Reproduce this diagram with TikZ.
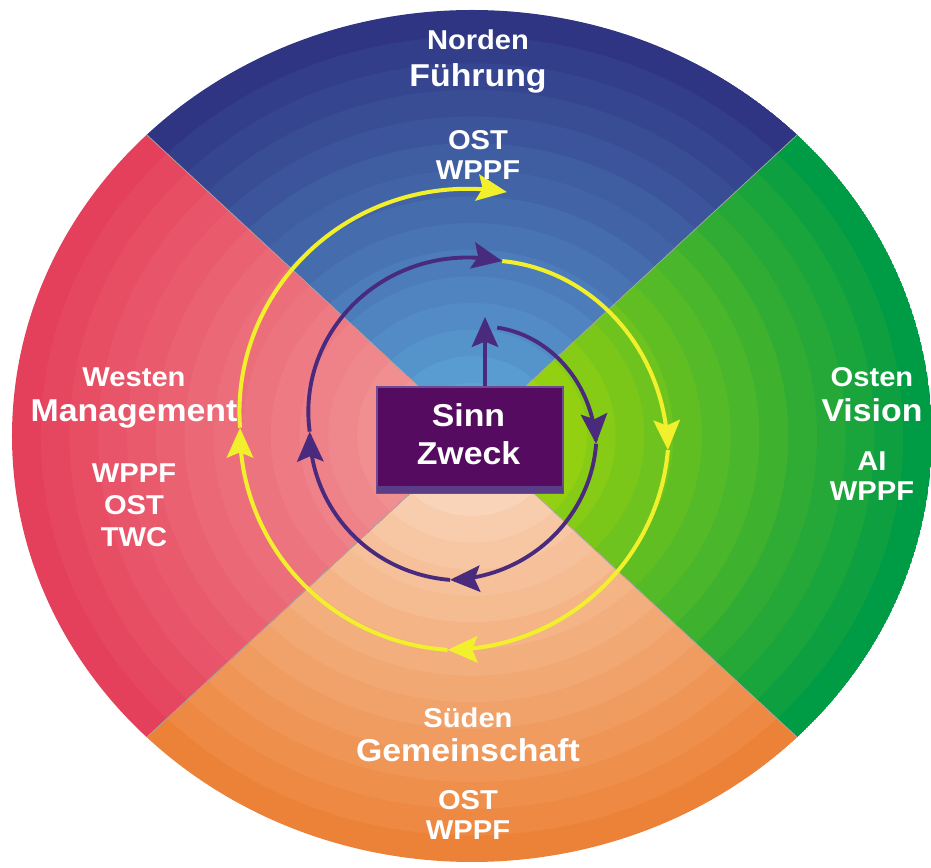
\documentclass[tikz,border=0pt]{standalone}
\usepackage{fontspec}
\setmainfont{Liberation Sans}[FakeStretch=1.07]
\usetikzlibrary{arrows.meta, positioning}

\definecolor{nordout}{HTML}{2F3582}
\definecolor{nordin}{HTML}{62B2E4}
\definecolor{ostout}{HTML}{009B45}
\definecolor{ostin}{HTML}{C2E100}
\definecolor{suedout}{HTML}{EC8238}
\definecolor{suedin}{HTML}{FCE6D4}
\definecolor{westout}{HTML}{E5405B}
\definecolor{westin}{HTML}{F4A8A2}
\definecolor{ringyellow}{HTML}{F2EF2C}
\definecolor{ringpurple}{HTML}{4A2A7C}
\definecolor{boxfill}{HTML}{550B5F}
\definecolor{boxband}{HTML}{5B3C86}
\definecolor{boxedge}{HTML}{6E4A92}

% piece of the spiral: start angle, start radius, end angle, end radius
\newcommand{\spiralpart}[4]{plot[domain=#1:#3, samples=60] (\x:{#2+(#4-#2)*(\x-(#1))/((#3)-(#1))})}

\begin{document}
\begin{tikzpicture}[x=0.02cm, y=0.02cm]
	
	\tikzset{
		small/.style={text=white, font=\bfseries\fontsize{15.5}{18}\selectfont, anchor=base, inner sep=0pt},
		big/.style={small, font=\bfseries\fontsize{18}{21}\selectfont},
		yellowline/.style={ringyellow, line width=2.3pt, -{Stealth[length=17pt, width=15pt, inset=3pt]}},
		purpleline/.style={ringpurple, line width=2.2pt, -{Stealth[length=17pt, width=15pt, inset=3pt]}},
		purposebox/.style={fill=boxfill, draw=boxedge, line width=0.8pt,
			minimum width=3.72cm, minimum height=2.12cm, inner sep=0pt}
	}
	\useasboundingbox (-465.5,-434) rectangle (465.5,434);
	
	% the four quarters, shaded in rings
	\foreach \a/\outer/\inner in {90/nordout/nordin, 0/ostout/ostin, 270/suedout/suedin, 180/westout/westin}{
		\begin{scope}
			\clip (6.5,-2) -- ++(\a-45:460 and 426) arc[start angle=\a-45, end angle=\a+45, x radius=460, y radius=426] -- cycle;
			\foreach \i in {16,...,1}{
				\pgfmathtruncatemacro\mix{100*\i/16}
				\fill[\outer!\mix!\inner] (6.5,-2) ellipse[x radius=460*\i/16, y radius=426*\i/16];
			}
		\end{scope}
	}
	\draw[black!35, line width=0.4pt] (6.5,-2) ++(45:460 and 426) -- ++(225:920 and 852);
	\draw[black!35, line width=0.4pt] (6.5,-2) ++(135:460 and 426) -- ++(315:920 and 852);
	
	% middle
	\node[purposebox] (box) at (4.5,-6) {};
	\fill[boxband] ([xshift=0.4pt, yshift=0.4pt]box.south west) rectangle ([xshift=-0.4pt, yshift=0.16cm]box.south east);
	\node[big] (sinn) at (3,7) {Sinn};
	\node[big] (zweck) at (3,-31) {Zweck};
	
	% arrows
	\coordinate (uptip) at (19.5,117);
	\draw[purpleline] (uptip |- box.north) -- (uptip);
	\begin{scope}[shift={(-10,10)}]
		\draw[yellowline] \spiralpart{-286}{169.5}{-367}{214};
		\draw[yellowline] \spiralpart{-367}{214}{-452}{226};
		\draw[yellowline] \spiralpart{-452}{226}{-539}{215.5};
		\draw[yellowline] \spiralpart{-539}{215.5}{-642.5}{237.6};
		\draw[purpleline] \spiralpart{66.6}{105}{-8}{142};
		\draw[purpleline] \spiralpart{-8}{142}{-92}{156};
		\draw[purpleline] \spiralpart{-92}{156}{-177}{146};
		\draw[purpleline] \spiralpart{-177}{146}{-286}{169.5};
	\end{scope}
	
	% north
	\node[small] (norden) at (12.5,384) {Norden};
	\node[big] (fuehrung) at (12.5,347) {Führung};
	\node[small] (nordost) at (12.5,284) {OST};
	\node[small] (nordwppf) at (12.5,254) {WPPF};
	% west
	\node[small] (westen) at (-331.5,47) {Westen};
	\node[big] (management) at (-331.5,12) {Management};
	\node[small] (westwppf) at (-331.5,-49) {WPPF};
	\node[small] (westost) at (-331.5,-81) {OST};
	\node[small] (westtwc) at (-331.5,-113) {TWC};
	% east
	\node[small] (osten) at (406.5,47) {Osten};
	\node[big] (vision) at (406.5,12) {Vision};
	\node[small] (ostai) at (406.5,-37) {AI};
	\node[small] (ostwppf) at (406.5,-67) {WPPF};
	% south
	\node[small] (sueden) at (2.5,-294) {Süden};
	\node[big] (gemeinschaft) at (2.5,-328) {Gemeinschaft};
	\node[small] (suedost) at (2.5,-376) {OST};
	\node[small] (suedwppf) at (2.5,-406) {WPPF};
	
\end{tikzpicture}
\end{document}
